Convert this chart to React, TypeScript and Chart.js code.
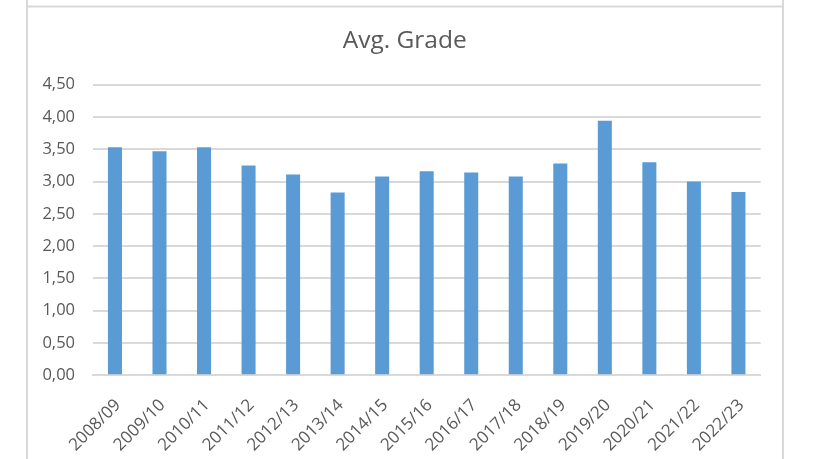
import React, { useEffect, useRef } from "react";
import { Chart, registerables } from "chart.js";

Chart.register(...registerables);

const categories = [
  "2008/09", "2009/10", "2010/11", "2011/12", "2012/13", "2013/14", "2014/15", "2015/16",
  "2016/17", "2017/18", "2018/19", "2019/20", "2020/21", "2021/22", "2022/23",
];
const avgGrade = [3.53, 3.47, 3.53, 3.25, 3.11, 2.83, 3.08, 3.16, 3.14, 3.08, 3.28, 3.94, 3.3, 3.0, 2.84];
const yMin = 0;
const yMax = 4.5;
const yStep = 0.5;
const chartTitle = "Avg. Grade";

const FONT = "'Open Sans', 'Liberation Sans', sans-serif";
const TEXT = "#595959";
const GRID = "#d9d9d9";

const framePlugin = {
  id: "frame",
  beforeDraw(chart: any) {
    const ctx = chart.ctx;
    ctx.save();
    ctx.fillStyle = "#ffffff";
    ctx.fillRect(0, 0, chart.width, chart.height);
    ctx.strokeStyle = GRID;
    ctx.lineWidth = 2;
    ctx.beginPath();
    ctx.moveTo(27, 0);
    ctx.lineTo(27, chart.height);
    ctx.moveTo(783, 0);
    ctx.lineTo(783, chart.height);
    ctx.moveTo(27, 6.5);
    ctx.lineTo(783, 6.5);
    ctx.stroke();
    ctx.restore();
  },
  afterDraw(chart: any) {
    const ctx = chart.ctx;
    ctx.save();
    ctx.fillStyle = TEXT;
    ctx.font = `normal 24.5px ${FONT}`;
    ctx.textAlign = "center";
    ctx.textBaseline = "middle";
    ctx.fillText(chartTitle, 404.7, 41.5);
    ctx.restore();
  },
};

export default function App() {
  const ref = useRef<HTMLCanvasElement>(null);
  useEffect(() => {
    if (!ref.current) return;
    const chart = new Chart(ref.current, {
      type: "bar",
      data: {
        labels: categories,
        datasets: [
          {
            label: chartTitle,
            data: avgGrade,
            backgroundColor: "#5b9bd5",
            borderWidth: 0,
            barPercentage: 0.315,
            categoryPercentage: 1,
          },
        ],
      },
      options: {
        animation: false,
        responsive: false,
        devicePixelRatio: 1,
        layout: { padding: { left: 0, right: 61.3, top: 84.7, bottom: 0 } },
        plugins: {
          legend: { display: false },
          tooltip: { enabled: false },
          title: { display: false },
        },
        scales: {
          x: {
            grid: { display: false, drawTicks: false },
            border: { display: true, color: GRID, width: 2 },
            ticks: {
              color: TEXT,
              font: { family: FONT, size: 17 },
              minRotation: 45,
              maxRotation: 45,
              autoSkip: false,
              padding: 20,
              labelOffset: 3,
            },
            afterFit(scale: any) {
              scale.height = 83.7;
            },
          },
          y: {
            min: yMin,
            max: yMax,
            grid: { color: GRID, lineWidth: 2, drawTicks: false },
            border: { display: false },
            ticks: {
              stepSize: yStep,
              color: TEXT,
              font: { family: FONT, size: 16.5 },
              padding: 17.7,
              callback: (v: any) => Number(v).toFixed(2).replace(".", ","),
            },
            afterFit(scale: any) {
              scale.width = 92.7;
            },
          },
        },
      },
      plugins: [framePlugin],
    });
    return () => chart.destroy();
  }, []);
  return (
    <div style={{ position: "absolute", left: 0, top: 0, width: 822, height: 459 }}>
      <canvas ref={ref} width={822} height={459} />
    </div>
  );
}
